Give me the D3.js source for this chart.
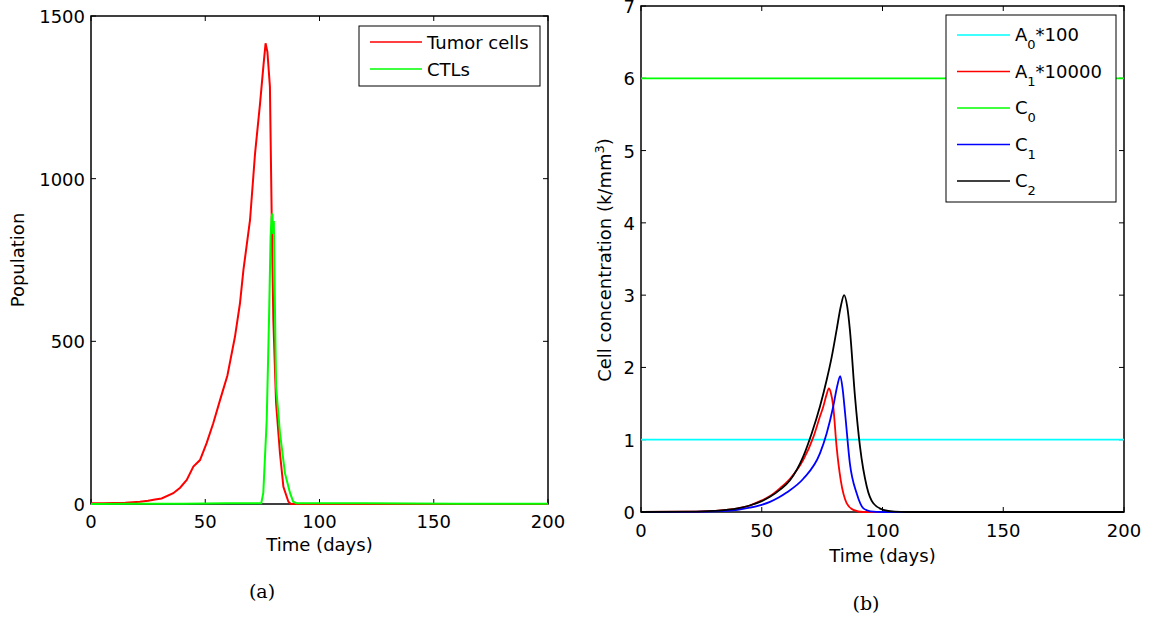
<!DOCTYPE html>
<html>
<head>
<meta charset="utf-8">
<script src="https://cdn.jsdelivr.net/npm/d3@7"></script>
<style>
  body { margin:0; background:#fff; }
  svg { display:block; font-family:"DejaVu Sans", "Liberation Sans", Arial, sans-serif; }
</style>
</head>
<body>
<svg id="fig" width="1150" height="618"></svg>
<script>
// --- panel (a): stochastic simulation ---
const tumorT = [0, 5, 10, 15, 21.4, 25, 28, 30.9, 36, 39, 41.9, 44.8, 47.7, 50.6, 53.5, 56.5, 59.7, 63, 65.2, 66.7, 69.6, 71.8, 74, 75.5, 76.4, 77.2, 78.3, 79.1, 79.8, 81, 82.7, 84.2, 86.4, 87.5, 100, 150, 200];
const tumorV = [2, 2, 3, 4, 7, 10, 14, 17, 33, 50, 74, 115, 135, 187, 248, 320, 395, 514, 617, 719, 873, 1078, 1232, 1350, 1416, 1390, 1283, 873, 566, 310, 156, 53, 7, 0, 0, 0, 0];
const ctlT = [0, 20, 40, 60, 74.5, 75.4, 76.9, 77.9, 78.6, 79.0, 79.4, 79.7, 80.0, 80.5, 81, 82.7, 84.9, 87.1, 88.5, 90, 120, 160, 200];
const ctlV = [0, 1, 1, 2, 2, 34, 258, 566, 822, 880, 893, 830, 870, 600, 361, 218, 94, 34, 7, 2, 2, 1, 1];
const legendA = ["Tumor cells", "CTLs"];

// --- panel (b): deterministic model ---
const a1T = [0, 20, 30, 40, 45, 50, 53.4, 57.6, 61.7, 67.2, 71.4, 74.1, 75.5, 76.8, 77.8, 78.6, 79.6, 81, 82.7, 85.2, 87.9, 92, 200];
const a1V = [0, 0.004, 0.015, 0.05, 0.09, 0.16, 0.22, 0.33, 0.46, 0.72, 1.04, 1.32, 1.46, 1.62, 1.71, 1.65, 1.46, 0.9, 0.44, 0.12, 0.03, 0, 0];
const c2T = [0, 20, 30, 40, 45, 50, 53.4, 57.6, 61.7, 67.2, 70.7, 74.1, 76.9, 79, 81, 82.7, 84.1, 85.4, 86.5, 88.6, 90.7, 93.5, 96.2, 100.3, 105, 110, 200];
const c2V = [0, 0.004, 0.015, 0.05, 0.09, 0.15, 0.21, 0.31, 0.44, 0.77, 1.09, 1.46, 1.83, 2.15, 2.52, 2.84, 3.0, 2.84, 2.52, 1.6, 0.9, 0.35, 0.12, 0.03, 0.005, 0, 0];
const c1T = [0, 20, 30, 40, 45, 50, 53.4, 57, 60.3, 67.2, 74.1, 76.9, 79.6, 81.3, 82.5, 83.5, 84.5, 86.5, 89.3, 92.1, 95, 100, 200];
const c1V = [0, 0.002, 0.008, 0.03, 0.06, 0.1, 0.14, 0.2, 0.27, 0.46, 0.81, 1.09, 1.46, 1.75, 1.88, 1.7, 1.37, 0.67, 0.26, 0.05, 0.01, 0, 0];
const a0T = [0, 200], a0V = [1, 1];
const c0T = [0, 200], c0V = [6, 6];
const legendB = [["A", "0", "*100"], ["A", "1", "*10000"], ["C", "0", ""], ["C", "1", ""], ["C", "2", ""]];

const xTicks = [0, 50, 100, 150, 200];
const yTicksA = [0, 500, 1000, 1500];
const yTicksB = [0, 1, 2, 3, 4, 5, 6, 7];

const svg = d3.select("#fig");
const FS = 18;

function zip(t, v) { return t.map((d, i) => [d, v[i]]); }

function frame(x, y, yTicks, opts) {
  const g = svg.append("g");
  const [x0, x1] = x.range();
  const [y0, y1] = y.range();
  const tl = 5;
  // inward ticks on all four sides
  xTicks.forEach(t => {
    g.append("line").attr("x1", x(t)).attr("x2", x(t)).attr("y1", y0).attr("y2", y0 - tl).attr("stroke", "#000");
    g.append("line").attr("x1", x(t)).attr("x2", x(t)).attr("y1", y1).attr("y2", y1 + tl).attr("stroke", "#000");
    g.append("text").attr("x", x(t)).attr("y", y0 + opts.xLabDy).attr("text-anchor", "middle")
      .attr("font-size", FS).text(t);
  });
  yTicks.forEach(t => {
    g.append("line").attr("x1", x0).attr("x2", x0 + tl).attr("y1", y(t)).attr("y2", y(t)).attr("stroke", "#000");
    g.append("line").attr("x1", x1).attr("x2", x1 - tl).attr("y1", y(t)).attr("y2", y(t)).attr("stroke", "#000");
    g.append("text").attr("x", x0 - 6).attr("y", y(t) + 7).attr("text-anchor", "end")
      .attr("font-size", FS).text(t);
  });
  g.append("rect").attr("x", x0).attr("y", y1).attr("width", x1 - x0).attr("height", y0 - y1)
    .attr("fill", "none").attr("stroke", "#000").attr("stroke-width", 1.5);
  g.append("text").attr("x", (x0 + x1) / 2).attr("y", y0 + opts.xTitleDy).attr("text-anchor", "middle")
    .attr("font-size", FS).text("Time (days)");
  return g;
}

// ---------- panel (a) ----------
const xa = d3.scaleLinear().domain([0, 200]).range([91, 548]);
const ya = d3.scaleLinear().domain([0, 1500]).range([504, 16]);
frame(xa, ya, yTicksA, { xLabDy: 24, xTitleDy: 47 });
svg.append("text").attr("transform", "translate(24,260) rotate(-90)").attr("text-anchor", "middle")
  .attr("font-size", FS).text("Population");

const lineA = d3.line().x(d => xa(d[0])).y(d => ya(d[1]));
svg.append("path").datum(zip(tumorT, tumorV)).attr("d", lineA).attr("fill", "none")
  .attr("stroke", "#ff0000").attr("stroke-width", 2);
svg.append("path").datum(zip(ctlT, ctlV)).attr("d", lineA).attr("fill", "none")
  .attr("stroke", "#00ff00").attr("stroke-width", 2);

const legA = svg.append("g");
legA.append("rect").attr("x", 359).attr("y", 26).attr("width", 181).attr("height", 60)
  .attr("fill", "#fff").attr("stroke", "#000").attr("stroke-width", 1);
legendA.forEach((name, i) => {
  const yy = 42 + i * 27;
  legA.append("line").attr("x1", 370).attr("x2", 422).attr("y1", yy).attr("y2", yy)
    .attr("stroke", i === 0 ? "#ff0000" : "#00ff00").attr("stroke-width", 1.5);
  legA.append("text").attr("x", 427).attr("y", yy + 7).attr("font-size", FS).text(name);
});

svg.append("text").attr("x", 262).attr("y", 598).attr("text-anchor", "middle")
  .attr("font-family", "'DejaVu Serif', 'Liberation Serif', serif").attr("font-size", 19).text("(a)");

// ---------- panel (b) ----------
const xb = d3.scaleLinear().domain([0, 200]).range([641, 1124]);
const yb = d3.scaleLinear().domain([0, 7]).range([512, 6]);
frame(xb, yb, yTicksB, { xLabDy: 25, xTitleDy: 50 });
const yl = svg.append("text").attr("transform", "translate(611,260) rotate(-90)").attr("text-anchor", "middle")
  .attr("font-size", FS);
yl.append("tspan").text("Cell concentration (k/mm");
yl.append("tspan").attr("font-size", 13).attr("dy", -7).text("3");
yl.append("tspan").attr("dy", 7).text(")");

const lineB = d3.line().x(d => xb(d[0])).y(d => yb(d[1])).curve(d3.curveMonotoneX);
const seriesB = [
  [a0T, a0V, "#00ffff"],
  [a1T, a1V, "#ff0000"],
  [c0T, c0V, "#00ff00"],
  [c1T, c1V, "#0000ff"],
  [c2T, c2V, "#000000"]
];
seriesB.forEach(([t, v, c]) => {
  svg.append("path").datum(zip(t, v)).attr("d", lineB).attr("fill", "none")
    .attr("stroke", c).attr("stroke-width", 1.8);
});

const legB = svg.append("g");
legB.append("rect").attr("x", 946).attr("y", 15).attr("width", 170).attr("height", 187)
  .attr("fill", "#fff").attr("stroke", "#000").attr("stroke-width", 1);
legendB.forEach(([base, sub, rest], i) => {
  const yy = 35 + i * 36.5;
  legB.append("line").attr("x1", 957).attr("x2", 1010).attr("y1", yy).attr("y2", yy)
    .attr("stroke", seriesB[i][2]).attr("stroke-width", 1.5);
  const tx = legB.append("text").attr("x", 1015).attr("y", yy + 6).attr("font-size", FS);
  tx.append("tspan").text(base);
  tx.append("tspan").attr("font-size", 13).attr("dy", 8).text(sub);
  if (rest) tx.append("tspan").attr("dy", -8).text(rest);
});

svg.append("text").attr("x", 866).attr("y", 610).attr("text-anchor", "middle")
  .attr("font-family", "'DejaVu Serif', 'Liberation Serif', serif").attr("font-size", 19).text("(b)");
</script>
</body>
</html>
